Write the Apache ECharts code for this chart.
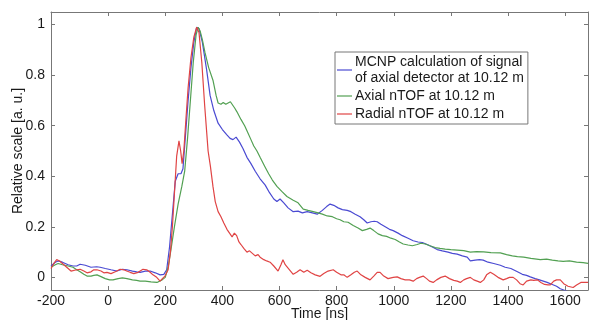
<!DOCTYPE html>
<html>
<head>
<meta charset="utf-8">
<script src="https://cdn.jsdelivr.net/npm/echarts@6/dist/echarts.min.js"></script>
<style>
html,body{margin:0;padding:0;background:#fff;}
#c{width:590px;height:320px;}
</style>
</head>
<body>
<div id="c"></div>
<script>
// ---- data ----
const seriesNames = [
  "MCNP calculation of signal\nof axial detector at 10.12 m",
  "Axial nTOF at 10.12 m",
  "Radial nTOF at 10.12 m"
];
const xTicks = [-200, 0, 200, 400, 600, 800, 1000, 1200, 1400, 1600];

const mcnpT = [-200,-185,-175,-160,-140,-123,-110,-98,-80,-60,-40,-28,-10,10,31,50,66,85,100,112,130,147,165,182,195,205,215,225,235,245,255,262,270,280,290,300,310,318,330,345,357,370,385,400,415,427,437,448,460,472,486,500,515,532,550,565,580,591,602,615,630,648,665,680,697,715,732,750,765,777,790,805,820,837,850,865,882,895,907,920,932,942,955,970,985,998,1015,1030,1050,1068,1085,1100,1117,1135,1152,1170,1190,1205,1222,1240,1257,1268,1285,1300,1313,1330,1350,1373,1390,1410,1433,1450,1465,1478,1495,1510,1537,1555,1570,1583,1600,1615];
const mcnpY = [0.045,0.06,0.065,0.06,0.05,0.045,0.045,0.052,0.048,0.04,0.042,0.04,0.035,0.03,0.025,0.032,0.03,0.025,0.022,0.02,0.025,0.025,0.018,0.01,0.012,0.03,0.12,0.25,0.38,0.41,0.41,0.43,0.55,0.7,0.83,0.93,0.99,0.985,0.93,0.82,0.72,0.66,0.61,0.585,0.565,0.55,0.545,0.555,0.535,0.51,0.475,0.45,0.42,0.39,0.365,0.335,0.31,0.30,0.31,0.295,0.275,0.26,0.262,0.255,0.26,0.255,0.25,0.265,0.28,0.29,0.285,0.275,0.268,0.265,0.26,0.25,0.24,0.228,0.215,0.22,0.222,0.22,0.21,0.2,0.19,0.185,0.175,0.165,0.155,0.145,0.14,0.138,0.13,0.12,0.11,0.105,0.1,0.095,0.092,0.085,0.08,0.065,0.068,0.07,0.068,0.06,0.055,0.048,0.04,0.035,0.022,0.012,0.008,0.002,-0.005,-0.01,-0.02,-0.028,-0.035,-0.045,-0.052,-0.06];

const axialT = [-200,-185,-175,-160,-140,-123,-110,-98,-85,-74,-60,-50,-39,-25,-10,5,17,35,50,66,85,100,112,130,150,171,189,200,210,220,232,245,258,268,278,288,298,308,315,322,330,339,352,367,378,385,395,403,412,420,428,434,443,451,465,478,486,500,510,521,532,548,562,575,591,608,626,648,665,683,700,718,735,750,767,785,800,812,825,840,858,875,890,905,917,930,945,960,975,990,1005,1020,1033,1050,1065,1082,1095,1110,1127,1145,1162,1180,1200,1222,1245,1268,1290,1315,1340,1373,1395,1415,1433,1455,1480,1500,1513,1535,1555,1575,1593,1615,1640,1663,1680];
const axialY = [0.04,0.05,0.055,0.05,0.045,0.04,0.03,0.022,0.012,0.005,0.005,0.008,0.01,0.003,-0.005,-0.01,-0.01,-0.005,-0.002,-0.005,-0.01,-0.012,-0.015,-0.015,-0.018,-0.02,-0.01,0.0,0.04,0.11,0.2,0.29,0.36,0.42,0.55,0.7,0.85,0.96,0.99,0.975,0.94,0.89,0.83,0.78,0.72,0.69,0.685,0.692,0.685,0.69,0.695,0.69,0.67,0.655,0.625,0.6,0.58,0.545,0.52,0.5,0.475,0.44,0.41,0.385,0.36,0.34,0.32,0.305,0.295,0.27,0.265,0.26,0.255,0.25,0.243,0.24,0.232,0.228,0.22,0.218,0.205,0.195,0.185,0.19,0.195,0.185,0.172,0.165,0.162,0.155,0.15,0.14,0.132,0.128,0.125,0.13,0.135,0.132,0.125,0.118,0.115,0.112,0.11,0.108,0.106,0.1,0.102,0.101,0.098,0.097,0.09,0.085,0.082,0.08,0.075,0.072,0.07,0.072,0.068,0.065,0.063,0.065,0.06,0.058,0.055];

const radialT = [-200,-190,-180,-170,-160,-150,-140,-130,-123,-110,-98,-85,-74,-60,-50,-39,-25,-15,-4,10,25,42,55,65,77,90,105,122,135,147,157,170,182,190,199,210,218,225,232,240,248,254,259,265,272,280,290,300,310,318,328,338,350,358,367,375,385,395,405,416,425,434,442,450,458,465,475,486,495,505,515,525,532,545,555,567,580,595,605,612,620,635,648,660,672,685,697,710,725,742,755,770,788,800,815,825,837,850,862,872,885,900,917,930,942,952,965,980,998,1012,1025,1040,1055,1068,1080,1090,1103,1115,1125,1138,1150,1165,1180,1195,1210,1222,1233,1245,1255,1268,1280,1292,1303,1315,1325,1338,1350,1365,1383,1395,1405,1418,1430,1442,1453,1465,1480,1490,1503,1515,1528,1540,1548,1560,1570,1583,1595,1610,1628,1640,1655,1668,1680];
const radialY = [0.035,0.055,0.07,0.065,0.055,0.045,0.035,0.025,0.02,0.03,0.032,0.025,0.018,0.022,0.03,0.03,0.025,0.018,0.02,0.015,0.022,0.032,0.03,0.025,0.02,0.015,0.02,0.032,0.03,0.02,0.01,0.0,-0.015,-0.005,0.005,0.03,0.1,0.2,0.33,0.48,0.54,0.5,0.45,0.5,0.62,0.75,0.87,0.95,0.99,0.97,0.85,0.68,0.5,0.44,0.36,0.3,0.26,0.24,0.215,0.19,0.175,0.16,0.175,0.165,0.14,0.13,0.115,0.1,0.105,0.095,0.085,0.09,0.08,0.07,0.065,0.06,0.045,0.025,0.05,0.07,0.05,0.03,0.012,0.02,0.03,0.02,0.028,0.018,0.01,0.004,0.015,0.025,0.03,0.02,0.01,0.01,0.0,0.01,0.02,0.025,0.01,0.0,-0.01,0.005,0.02,0.02,0.005,-0.005,0.0,0.002,-0.005,-0.01,-0.01,-0.015,-0.005,0.0,0.005,-0.005,-0.015,-0.02,-0.01,0.0,0.005,-0.005,-0.012,-0.015,-0.02,-0.01,-0.005,0.0,-0.01,-0.015,-0.02,-0.01,0.01,0.02,0.012,0.0,-0.01,-0.005,0.0,0.0,-0.01,-0.025,-0.03,-0.015,-0.01,-0.012,-0.01,-0.02,-0.028,-0.03,-0.03,-0.015,-0.01,-0.01,-0.025,-0.035,-0.04,-0.03,-0.02,-0.02,-0.02];

// ---- chart ----
const colors = ['#4a4ad2', '#52a052', '#e04444'];
const font = "'Liberation Sans', Arial, sans-serif";
function pairs(t, y) { return t.map((v, i) => [v, y[i]]); }

const chart = echarts.init(document.getElementById('c'), null, {renderer: 'canvas'});
const axisLine = {show: true, onZero: false, lineStyle: {color: '#777', width: 1}};
const tickStyle = {show: true, inside: true, length: 4, lineStyle: {color: '#777'}};
const lblColor = '#1a1a1a';

chart.setOption({
  animation: false,
  backgroundColor: '#fff',
  textStyle: {fontFamily: font},
  grid: {left: 51, right: 2, top: 12, bottom: 30, containLabel: false, outerBoundsMode: 'none'},
  legend: {
    orient: 'vertical',
    left: 335, top: 52,
    data: seriesNames,
    icon: 'rect',
    itemWidth: 15, itemHeight: 1.2,
    itemGap: 2,
    padding: [2, 4, 2, 2],
    borderColor: '#777', borderWidth: 1,
    backgroundColor: '#fff',
    textStyle: {fontSize: 14, color: lblColor, fontFamily: font, lineHeight: 16, padding: [0, 0, 0, -2]}
  },
  xAxis: [{
    type: 'value', min: -200, max: 1680, interval: 200,
    name: 'Time [ns]', nameLocation: 'middle', nameGap: 17, nameMoveOverlap: false,
    nameTextStyle: {fontSize: 14, color: lblColor, fontFamily: font},
    axisLine: axisLine, axisTick: tickStyle, splitLine: {show: false},
    axisLabel: {fontSize: 14, color: lblColor, margin: 4, showMaxLabel: false,
      formatter: v => xTicks.indexOf(v) >= 0 ? String(v) : ''}
  }, {
    type: 'value', position: 'top', min: -200, max: 1680, interval: 200,
    axisLine: axisLine, axisTick: tickStyle, axisLabel: {show: false}, splitLine: {show: false}
  }],
  yAxis: [{
    type: 'value', min: -0.05, max: 1.05, splitNumber: 5,
    name: 'Relative scale [a. u.]', nameLocation: 'middle', nameGap: 26, nameMoveOverlap: false,
    nameTextStyle: {fontSize: 14, color: lblColor, fontFamily: font},
    axisLine: axisLine, axisTick: tickStyle, splitLine: {show: false},
    axisLabel: {fontSize: 14, color: lblColor, margin: 6, showMinLabel: false, showMaxLabel: false,
      formatter: v => {
        const r = Math.round(v * 10) / 10;
        if (Math.abs(v - r) > 1e-6 || Math.round(r * 10) % 2 !== 0) return '';
        return String(r);
      }}
  }, {
    type: 'value', position: 'right', min: -0.05, max: 1.05, splitNumber: 5,
    axisLine: axisLine, axisTick: tickStyle, axisLabel: {show: false}, splitLine: {show: false}
  }],
  series: [
    {name: seriesNames[0], type: 'line', data: pairs(mcnpT, mcnpY), showSymbol: false, symbol: 'none',
     lineStyle: {color: colors[0], width: 1.2}, itemStyle: {color: colors[0]}},
    {name: seriesNames[1], type: 'line', data: pairs(axialT, axialY), showSymbol: false, symbol: 'none',
     lineStyle: {color: colors[1], width: 1.2}, itemStyle: {color: colors[1]}},
    {name: seriesNames[2], type: 'line', data: pairs(radialT, radialY), showSymbol: false, symbol: 'none',
     lineStyle: {color: colors[2], width: 1.2}, itemStyle: {color: colors[2]}}
  ]
});
</script>
</body>
</html>
